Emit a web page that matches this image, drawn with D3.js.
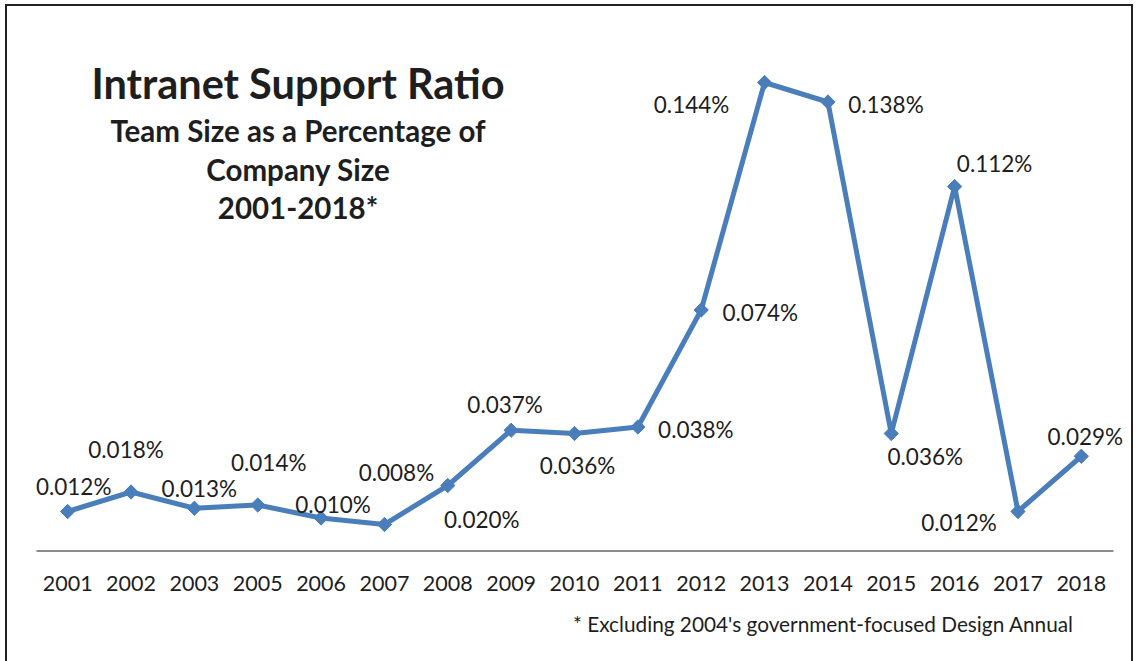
<!DOCTYPE html>
<html>
<head>
<meta charset="utf-8">
<script src="https://cdn.jsdelivr.net/npm/d3@7"></script>
<style>
  html, body { margin: 0; padding: 0; background: #fff; }
  svg { display: block; }
  text { font-family: Lato, "Open Sans", sans-serif; fill: #1e1e1e; }
</style>
</head>
<body>
<svg id="chart" width="1136" height="661"></svg>
<script>
// Survey years (2004 omitted, see footnote)
const years = ["2001","2002","2003","2005","2006","2007","2008","2009","2010",
               "2011","2012","2013","2014","2015","2016","2017","2018"];
// Intranet team size as a percentage of company size
const ratios = [0.012, 0.018, 0.013, 0.014, 0.010, 0.008, 0.020, 0.037, 0.036,
                0.038, 0.074, 0.144, 0.138, 0.036, 0.112, 0.012, 0.029];
const yDomain = [0, 0.16];

const titleLines = ["Team Size as a Percentage of", "Company Size", "2001-2018*"];
const footnote = "* Excluding 2004's government-focused Design Annual";

// Where each value label sits relative to its marker [dx, dy]
const labelNudge = [
  [6,-25], [-5,-43], [5,-20], [11,-43], [12,-14], [12,-52], [34,34], [-6,-26], [3,32],
  [58,2], [59,2], [-73,22], [58,2], [34,23], [40,-23], [-59,11], [4,-20]
];

const svg = d3.select("#chart");

// frame
svg.append("rect")
  .attr("x", 6).attr("y", 5).attr("width", 1126).attr("height", 700)
  .attr("fill", "none").attr("stroke", "#222").attr("stroke-width", 2);

const x = d3.scaleBand().domain(years).range([36, 1113]);
const y = d3.scaleLinear().domain(yDomain).range([550.5, 30.5]);
const cx = d => x(d) + x.bandwidth() / 2;

// category axis
const xAxis = svg.append("g")
  .attr("transform", `translate(0,${y(0)})`)
  .call(d3.axisBottom(x).tickSize(0).tickPadding(40));
xAxis.select(".domain").attr("stroke", "#8c8c8c").attr("stroke-width", 2);
xAxis.selectAll(".tick text")
  .attr("font-family", "Lato, sans-serif")
  .attr("font-size", 21.5)
  .attr("fill", "#1e1e1e")
  .attr("dy", 0);

const pts = years.map((yr, i) => ({ yr, v: ratios[i], nudge: labelNudge[i] }));

// series line
svg.append("path")
  .datum(pts)
  .attr("fill", "none")
  .attr("stroke", "#4a7ebb")
  .attr("stroke-width", 5)
  .attr("stroke-linejoin", "round")
  .attr("d", d3.line().x(d => cx(d.yr)).y(d => y(d.v)));

// diamond markers
svg.append("g").selectAll("path")
  .data(pts)
  .join("path")
  .attr("transform", d => `translate(${cx(d.yr)},${y(d.v)})`)
  .attr("d", d3.symbol().type(d3.symbolDiamond2).size(130))
  .attr("fill", "#4a7ebb")
  .attr("stroke", "#4a7ebb")
  .attr("stroke-width", 1);

// value labels
const fmt = d3.format(".3f");
svg.append("g").selectAll("text")
  .data(pts)
  .join("text")
  .attr("x", d => cx(d.yr) + d.nudge[0])
  .attr("y", d => y(d.v) + d.nudge[1])
  .attr("text-anchor", "middle")
  .attr("dominant-baseline", "central")
  .attr("font-size", 22.5)
  .text(d => fmt(d.v) + "%");

// titles
svg.append("text")
  .attr("x", 298).attr("y", 99)
  .attr("text-anchor", "middle")
  .attr("font-weight", 700)
  .attr("font-size", 41.5)
  .attr("fill", "#000")
  .text("Intranet Support Ratio");

svg.append("g").selectAll("text")
  .data(titleLines)
  .join("text")
  .attr("x", 298)
  .attr("y", (d, i) => 142 + i * 38.5)
  .attr("text-anchor", "middle")
  .attr("font-weight", 700)
  .attr("font-size", 29.5)
  .attr("fill", "#000")
  .text(d => d);

// footnote
svg.append("text")
  .attr("x", 573).attr("y", 632)
  .attr("font-size", 20.8)
  .text(footnote);
</script>
</body>
</html>
